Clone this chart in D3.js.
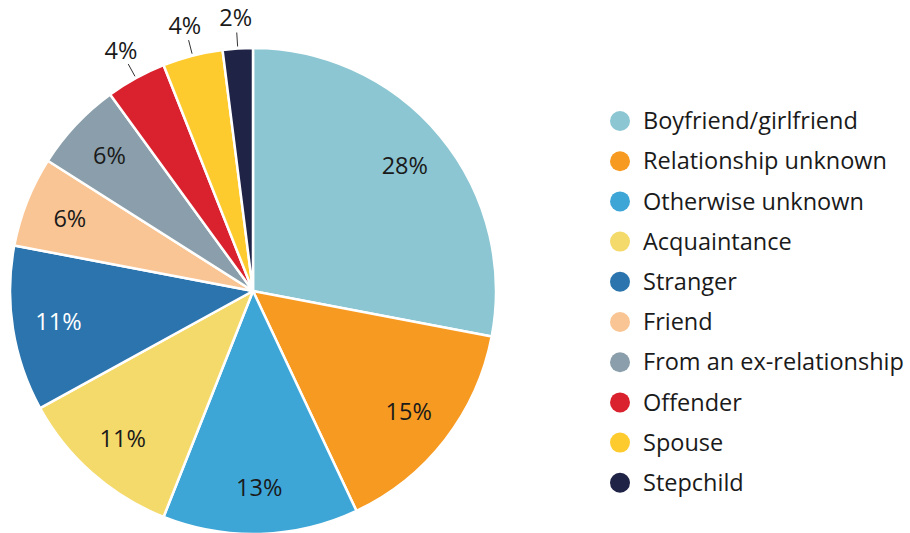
<!DOCTYPE html>
<html>
<head>
<meta charset="utf-8">
<script src="https://cdn.jsdelivr.net/npm/d3@7"></script>
<style>
  body { margin: 0; background: #fff; }
  text { font-family: "Open Sans", sans-serif; }
</style>
</head>
<body>
<div id="chart"></div>
<script>
const width = 910, height = 533;

// relationship categories and their shares (%)
const categories = ["Boyfriend/girlfriend", "Relationship unknown", "Otherwise unknown", "Acquaintance",
  "Stranger", "Friend", "From an ex-relationship", "Offender", "Spouse", "Stepchild"];
const shares = [28, 15, 13, 11, 11, 6, 6, 4, 4, 2];
const colours = ["#8cc6d2", "#f79a22", "#3ea6d6", "#f4d96b", "#2b74ad",
  "#f9c594", "#8a9fab", "#d9222e", "#fecb2f", "#1f2346"];
// which labels sit outside the pie
const outside = ["Offender", "Spouse", "Stepchild"];

const cx = 253, cy = 291, radius = 243;

const data = categories.map((c, i) => ({name: c, value: shares[i]}));

let svg = d3.select("#chart")
  .append("svg")
  .attr("width", width)
  .attr("height", height);

let color = d3.scaleOrdinal().domain(categories).range(colours);

let pie = d3.pie().value(d => d.value).sort(null);
let arc = d3.arc().innerRadius(0).outerRadius(radius);
let labelArc = d3.arc().innerRadius(197).outerRadius(197);
let lineIn = d3.arc().innerRadius(radius + 2).outerRadius(radius + 2);
let lineOut = d3.arc().innerRadius(radius + 16).outerRadius(radius + 16);
let outArc = d3.arc().innerRadius(radius + 31).outerRadius(radius + 31);

let g = svg.append("g").attr("transform", `translate(${cx},${cy})`);

let arcs = pie(data);

g.selectAll("path")
  .data(arcs)
  .enter()
  .append("path")
  .attr("d", arc)
  .attr("fill", d => color(d.data.name))
  .attr("stroke", "#fff")
  .attr("stroke-width", 2.5)
  .attr("stroke-linejoin", "round");

// inside labels
g.selectAll("text.in")
  .data(arcs.filter(d => !outside.includes(d.data.name)))
  .enter()
  .append("text")
  .attr("class", "in")
  .attr("transform", d => `translate(${labelArc.centroid(d)})`)
  .attr("text-anchor", "middle")
  .attr("dy", "0.35em")
  .style("font-size", "23.5px")
  .attr("fill", d => d.data.name === "Stranger" ? "#fff" : "#1a1a1a")
  .text(d => d.data.value + "%");

// outside labels with leader lines
let outs = arcs.filter(d => outside.includes(d.data.name));
g.selectAll("line.lead")
  .data(outs)
  .enter()
  .append("line")
  .attr("class", "lead")
  .attr("x1", d => lineIn.centroid(d)[0])
  .attr("y1", d => lineIn.centroid(d)[1])
  .attr("x2", d => lineOut.centroid(d)[0])
  .attr("y2", d => lineOut.centroid(d)[1])
  .attr("stroke", "#333")
  .attr("stroke-width", 1);

g.selectAll("text.out")
  .data(outs)
  .enter()
  .append("text")
  .attr("class", "out")
  .attr("transform", d => `translate(${outArc.centroid(d)})`)
  .attr("text-anchor", "middle")
  .attr("dy", "0.35em")
  .style("font-size", "23.5px")
  .attr("fill", "#1a1a1a")
  .text(d => d.data.value + "%");

// legend
let legend = svg.append("g").attr("transform", "translate(620, 121)");
let rows = legend.selectAll("g")
  .data(categories)
  .enter()
  .append("g")
  .attr("transform", (d, i) => `translate(0, ${i * 40.2})`);

rows.append("circle")
  .attr("r", 10)
  .attr("fill", d => color(d));

rows.append("text")
  .attr("x", 23)
  .attr("dy", "0.35em")
  .style("font-size", "23.5px")
  .attr("fill", "#1a1a1a")
  .text(d => d);
</script>
</body>
</html>
